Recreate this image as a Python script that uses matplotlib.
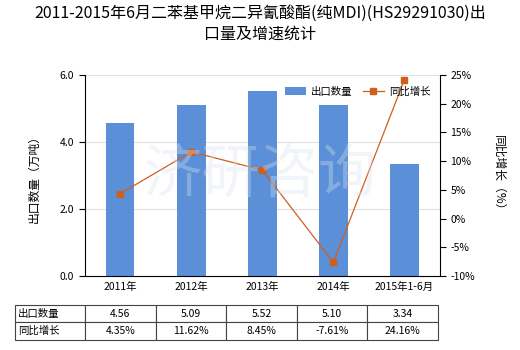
import matplotlib
matplotlib.use('Agg')
from matplotlib import pyplot as plt
import numpy as np

plt.rcParams['font.family'] = ['Noto Sans CJK SC', 'DejaVu Sans']

years = ['2011年', '2012年', '2013年', '2014年', '2015年1-6月']
export_qty = [4.56, 5.09, 5.52, 5.10, 3.34]
growth = [4.35, 11.62, 8.45, -7.61, 24.16]
qty_labels = ['4.56', '5.09', '5.52', '5.10', '3.34']
growth_labels = ['4.35%', '11.62%', '8.45%', '-7.61%', '24.16%']

bar_color = '#5b8fd8'
line_color = '#cf5f1c'

fig = plt.figure(figsize=(5.2, 3.5), dpi=100)
ax = fig.add_axes([0.163, 0.211, 0.683, 0.575])
x = np.arange(len(years))

ax.bar(x, export_qty, width=0.4, color=bar_color, zorder=2, label='出口数量')
ax.set_xlim(-0.5, len(years) - 0.5)
ax.set_ylim(0, 6)
ax.set_yticks([0, 2, 4, 6])
ax.set_yticklabels(['0.0', '2.0', '4.0', '6.0'], fontsize=7.5)
ax.set_xticks(x)
ax.set_xticklabels(years, fontsize=7.5)
ax.tick_params(axis='x', length=0, pad=4)
ax.tick_params(axis='y', length=4, width=0.8)
ax.grid(axis='y', color='#e0e0e0', linewidth=0.8, zorder=0)
for s in ['top', 'right']:
    ax.spines[s].set_visible(False)
ax.spines['left'].set_linewidth(0.8)
ax.spines['bottom'].set_linewidth(0.8)
ax.set_ylabel('出口数量（万吨）', fontsize=8.5, labelpad=14)

ax2 = ax.twinx()
ax2.plot(x, growth, color=line_color, linewidth=0.9, marker='s', markersize=4,
         zorder=3, label='同比增长')
ax2.set_ylim(-10, 25)
ax2.set_yticks(np.arange(-10, 26, 5))
ax2.set_yticklabels([f'{v}%' for v in range(-10, 26, 5)], fontsize=7.5)
ax2.tick_params(axis='y', length=4, width=0.8)
for s in ['top', 'left', 'bottom']:
    ax2.spines[s].set_visible(False)
ax2.spines['right'].set_linewidth(0.8)
ax2.set_ylabel('同比增长（%）', fontsize=8.5, rotation=270, labelpad=22)

# faint watermark across the plot area
fig.text(0.5, 0.5, '济研咨询', fontsize=42, color='#d8e2ee', alpha=0.35,
         ha='center', va='center', zorder=0)

h1, l1 = ax.get_legend_handles_labels()
h2, l2 = ax2.get_legend_handles_labels()
ax2.legend(h1 + h2, l1 + l2, loc='upper right', bbox_to_anchor=(1.0, 0.99),
           ncol=2, frameon=False, fontsize=7.5, handlelength=2.0,
           handletextpad=0.5, columnspacing=1.0)

fig.suptitle('2011-2015年6月二苯基甲烷二异氰酸酯(纯MDI)(HS29291030)出\n口量及增速统计',
             fontsize=11.5, y=0.985, linespacing=1.25)

cells = [['出口数量'] + qty_labels, ['同比增长'] + growth_labels]
tab = fig.add_axes([0.029, 0.029, 0.813, 0.1])
tab.axis('off')
t = tab.table(cellText=cells, cellLoc='center', bbox=[0, 0, 1, 1],
              colWidths=[70] + [70.6] * 5)
t.auto_set_font_size(False)
t.set_fontsize(7.5)
for (r, c), cell in t.get_celld().items():
    cell.set_edgecolor('#444444')
    cell.set_linewidth(0.8)
    if c == 0:
        cell.set_text_props(ha='left')
        cell.PAD = 0.04

fig.savefig('out.png', dpi=100)
